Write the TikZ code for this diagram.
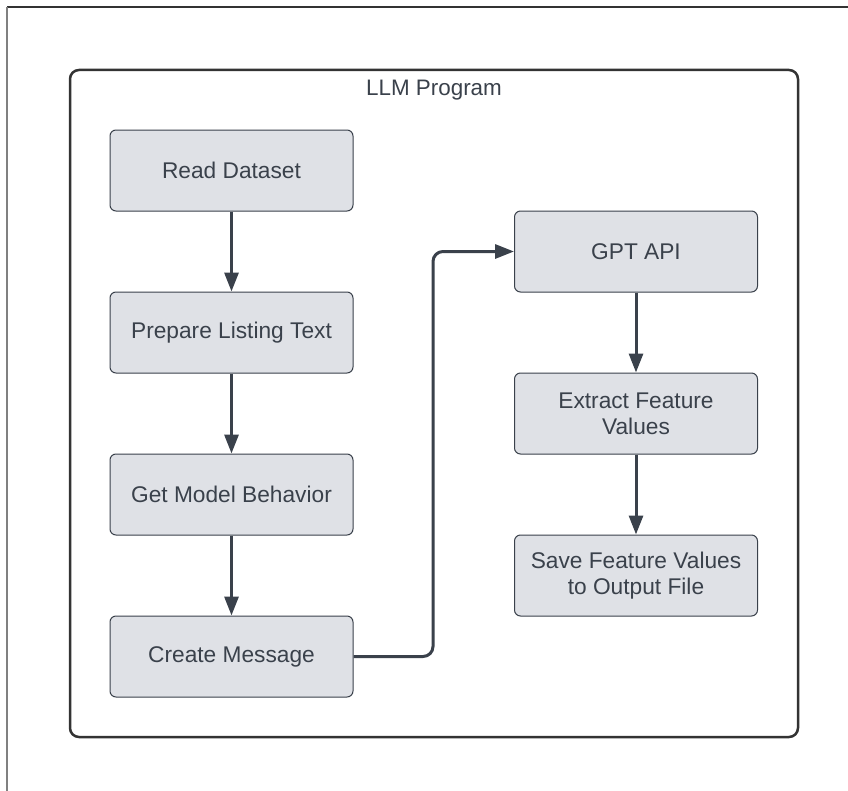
\documentclass[tikz,border=0pt]{standalone}
\usepackage{fontspec}
\setmainfont{Liberation Sans}
\usetikzlibrary{arrows.meta}
\definecolor{ink}{HTML}{3A414B}
\definecolor{boxfill}{HTML}{DFE1E6}
\definecolor{framec}{HTML}{333333}
\tikzset{
  stepbox/.style={draw=ink, line width=1bp, fill=boxfill, rounded corners=6bp,
    minimum width=243bp, minimum height=81bp, align=center, text=ink,
    font=\fontsize{22.8}{26}\selectfont, inner sep=2bp},
  flow/.style={draw=ink, line width=3bp, -{Triangle[length=19bp,width=14bp]}},
}
\begin{document}
\begin{tikzpicture}[x=1bp,y=-1bp]
\useasboundingbox (0,0) rectangle (848,791);
\fill[white] (0,0) rectangle (848,791);
% page edges
\draw[framec, line width=1.5bp] (7,7) -- (848,7);
\draw[gray, line width=1.2bp] (7,7) -- (7,791);
% program frame
\draw[framec, line width=2.5bp, rounded corners=9bp] (70,70) rectangle (798,737);
\node[text=ink, font=\fontsize{22.5}{26}\selectfont] (title) at (434,90.5) {LLM Program};
% left column
\node[stepbox] (read) at (231.5,170.5) {Read Dataset};
\node[stepbox] (prep) at (231.5,332.5) {Prepare Listing Text};
\node[stepbox] (model) at (231.5,494.5) {Get Model Behavior};
\node[stepbox] (msg) at (231.5,656.5) {Create Message};
% right column
\node[stepbox] (gpt) at (636,251.5) {GPT API};
\node[stepbox] (extract) at (636,413.5) {Extract Feature\\Values};
\node[stepbox] (save) at (636,575.5) {Save Feature Values\\to Output File};
% connectors
\draw[flow] (read) -- (prep);
\draw[flow] (prep) -- (model);
\draw[flow] (model) -- (msg);
\draw[flow, rounded corners=10bp] (msg.east) -- (433,656.5) -- (433,251.5) -- (gpt.west);
\draw[flow] (gpt) -- (extract);
\draw[flow] (extract) -- (save);
\end{tikzpicture}
\end{document}
